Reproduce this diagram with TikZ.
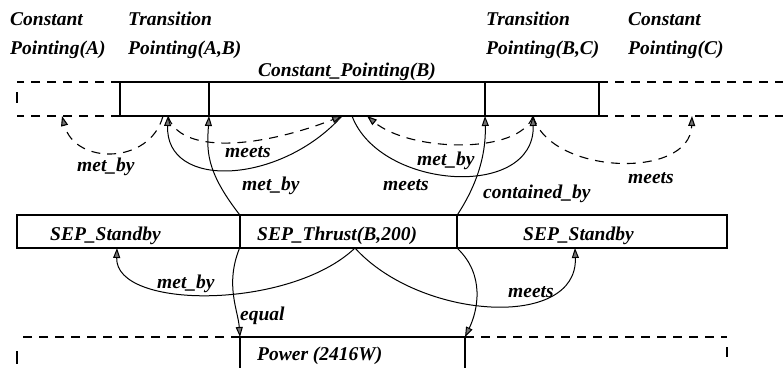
\documentclass[tikz,border=0pt]{standalone}
\usepackage{fontspec}
\setmainfont{Liberation Serif}
\usetikzlibrary{arrows.meta}
\begin{document}
\begin{tikzpicture}[x=1pt,y=-1pt,
  lbl/.style={font=\fontsize{19.5}{21}\selectfont\bfseries\itshape, anchor=base west, inner sep=0pt},
  tok/.style={draw, line width=1.4pt, rectangle, inner sep=0pt},
  frame/.style={line width=1.4pt},
  dsh/.style={line width=1.1pt, dash pattern=on 9pt off 7pt},
  conn/.style={line width=1pt},
  arr/.style={-{Triangle[length=10pt,width=7pt,fill=black!55]}}
]
\useasboundingbox (0,0) rectangle (783,367);

% ---- top timeline tokens ----
\node[tok, minimum width=89pt, minimum height=34pt] (ab) at (164.5,99) {};
\node[tok, minimum width=276pt, minimum height=34pt] (cpb) at (347,99) {};
\node[tok, minimum width=114pt, minimum height=34pt] (bc) at (542,99) {};
\draw[dsh] (120,82) -- (17,82);
\draw[dsh] (120,116) -- (17,116);
\draw[frame] (17,92) -- (17,103);
\draw[dsh] (599,82) -- (783,82);
\draw[dsh] (599,116) -- (783,116);

% ---- middle timeline tokens ----
\node[tok, minimum width=223pt, minimum height=33pt] (sb1) at (128.5,231.5) {};
\node[tok, minimum width=217pt, minimum height=33pt] (thr) at (348.5,231.5) {};
\node[tok, minimum width=270pt, minimum height=33pt] (sb2) at (592,231.5) {};

% ---- bottom timeline ----
\draw[frame] (240,370) -- (240,337) -- (465,337) -- (465,370);
\draw[dsh] (240,337) -- (17,337);
\draw[frame] (17,351) -- (17,364);
\draw[dsh] (465,337) -- (727,337);
\draw[frame] (727,347) -- (727,357);

% ---- texts ----
\node[lbl] (t1) at (10,25) {Constant};
\node[lbl] (t2) at (10,54) {Pointing(A)};
\node[lbl] (t3) at (128,25) {Transition};
\node[lbl] (t4) at (128,54) {Pointing(A,B)};
\node[lbl] (t5) at (258,76) {Constant\_Pointing(B)};
\node[lbl] (t6) at (486,25) {Transition};
\node[lbl] (t7) at (486,54) {Pointing(B,C)};
\node[lbl] (t8) at (628,25) {Constant};
\node[lbl] (t9) at (628,54) {Pointing(C)};
\node[lbl] (s1) at (50,240) {SEP\_Standby};
\node[lbl] (s2) at (257,240) {SEP\_Thrust(B,200)};
\node[lbl] (s3) at (523,240) {SEP\_Standby};
\node[lbl] (pw) at (257,360) {Power (2416W)};

% ---- attachment points ----
\coordinate (pA) at (62,116);
\coordinate (pAB1) at (163,116);
\coordinate (pAB2) at (168,116);
\coordinate (pABend) at (209,116);
\coordinate (pB1) at (342,116);
\coordinate (pB2) at (352,116);
\coordinate (pB3) at (367,116);
\coordinate (pBCend) at (485,116);
\coordinate (pBC) at (533,116);
\coordinate (pC) at (692,116);
\coordinate (tb) at (355,248);
\coordinate (sbA) at (117,248);
\coordinate (sbB) at (575,248);
\coordinate (pw1) at (240,337);
\coordinate (pw2) at (465,337);

% ---- connectors ----
\draw[conn, dsh, arr] (pAB1) .. controls (150,165) and (75,165) .. (pA);
\draw[conn, dsh, arr] (pAB2) .. controls (180,155) and (260,148) .. (pB1);
\draw[conn, arr] (pB1) .. controls (280,185) and (165,190) .. (pAB2);
\draw[conn, arr] (pB2) .. controls (380,190) and (535,200) .. (pBC);
\draw[conn, dsh, arr] (pBC) .. controls (520,155) and (410,152) .. (pB3);
\draw[conn, dsh, arr] (pBC) .. controls (550,175) and (690,180) .. (pC);
\draw[conn, arr] (thr.north east) .. controls (480,180) and (486,150) .. (pBCend);
\draw[conn, arr] (thr.north west) .. controls (205,170) and (207,150) .. (pABend);
\draw[conn, arr] (tb) .. controls (290,310) and (115,310) .. (sbA);
\draw[conn, arr] (tb) .. controls (420,320) and (578,330) .. (sbB);
\draw[conn, arr] (thr.south west) .. controls (225,285) and (238,310) .. (pw1);
\draw[conn, arr] (thr.south east) .. controls (485,275) and (478,310) .. (pw2);

% ---- connector labels ----
\node[lbl] (l1) at (77,171) {met\_by};
\node[lbl] (l2) at (225,157) {meets};
\node[lbl] (l3) at (242,190) {met\_by};
\node[lbl] (l4) at (383,190) {meets};
\node[lbl] (l5) at (417,165) {met\_by};
\node[lbl] (l6) at (483,198) {contained\_by};
\node[lbl] (l7) at (628,183) {meets};
\node[lbl] (l8) at (157,288) {met\_by};
\node[lbl] (l9) at (508,297) {meets};
\node[lbl] (l10) at (240,320) {equal};
\end{tikzpicture}
\end{document}
